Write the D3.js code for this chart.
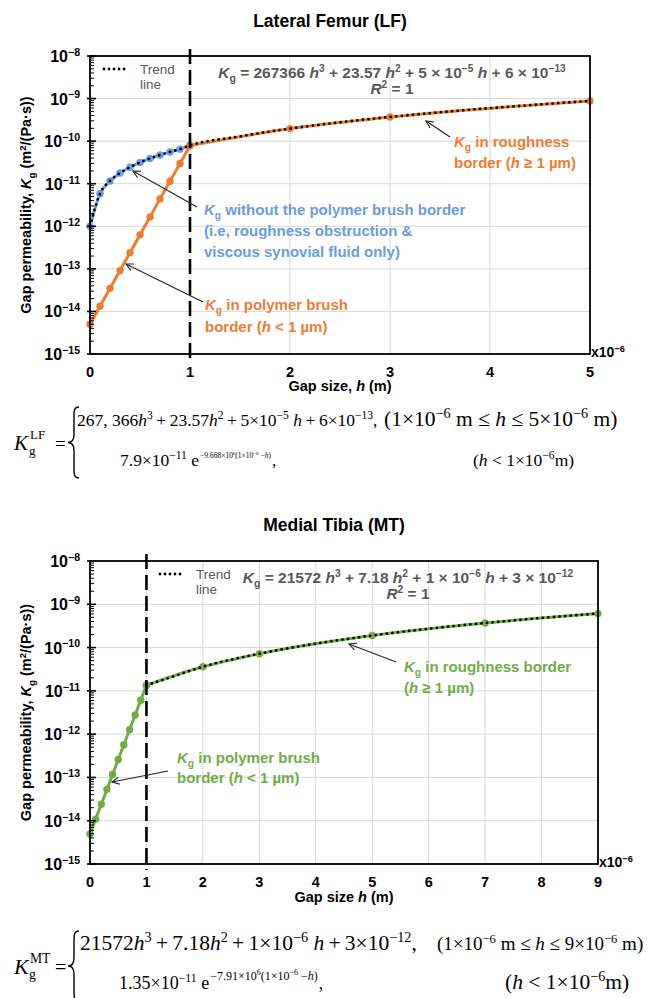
<!DOCTYPE html>
<html>
<head>
<meta charset="utf-8">
<script src="https://cdn.jsdelivr.net/npm/d3@7"></script>
<style>
  body { margin: 0; background: #fff; }
  svg { display: block; font-family: "Liberation Sans", Arial, sans-serif; }
</style>
</head>
<body>
<svg id="chart" width="649" height="998"></svg>
<script>
// ---- DATA ----
const yDecades = [-15, -14, -13, -12, -11, -10, -9, -8];
const lfTicksX = [0, 1, 2, 3, 4, 5];
const mtTicksX = [0, 1, 2, 3, 4, 5, 6, 7, 8, 9];

// Lateral Femur
const lfBrushH = [0, 0.1, 0.2, 0.3, 0.4, 0.5, 0.6, 0.7, 0.8, 0.9, 1];
const lfBrushK = [5.0e-15, 1.32e-14, 3.48e-14, 9.1e-14, 2.4e-13, 6.3e-13, 1.66e-12, 4.4e-12, 1.15e-11, 3.0e-11, 7.9e-11];
const lfNoBrushH = [0, 0.1, 0.2, 0.3, 0.4, 0.5, 0.6, 0.7, 0.8, 0.9, 1];
const lfNoBrushK = [1.0e-12, 5.8e-12, 1.16e-11, 1.78e-11, 2.44e-11, 3.15e-11, 3.92e-11, 4.73e-11, 5.58e-11, 6.49e-11, 7.9e-11];
const lfRoughH = [1, 2, 3, 5];
const lfRoughK = [7.9e-11, 1.97e-10, 3.7e-10, 8.8e-10];
const lfTrendH = [0, 0.1, 0.2, 0.3, 0.4, 0.5, 0.6, 0.7, 0.8, 0.9, 1, 1.5, 2, 2.5, 3, 3.5, 4, 4.5, 5];
const lfTrendK = [1.0e-12, 5.8e-12, 1.16e-11, 1.78e-11, 2.44e-11, 3.15e-11, 3.92e-11, 4.73e-11, 5.58e-11, 6.49e-11, 7.9e-11,
  1.29e-10, 1.97e-10, 2.77e-10, 3.7e-10, 4.76e-10, 5.95e-10, 7.27e-10, 8.8e-10];

// Medial Tibia
const mtBrushH = [0, 0.1, 0.2, 0.3, 0.4, 0.5, 0.6, 0.7, 0.8, 0.9, 1];
const mtBrushK = [4.95e-15, 1.09e-14, 2.41e-14, 5.3e-14, 1.17e-13, 2.59e-13, 5.7e-13, 1.26e-12, 2.78e-12, 6.1e-12, 1.35e-11];
const mtRoughH = [1, 2, 3, 5, 7, 9];
const mtRoughK = [1.35e-11, 3.6e-11, 7.2e-11, 1.9e-10, 3.69e-10, 6.1e-10];
const mtTrendH = [1, 1.5, 2, 3, 4, 5, 6, 7, 8, 9];
const mtTrendK = [1.35e-11, 2.2e-11, 3.6e-11, 7.2e-11, 1.23e-10, 1.9e-10, 2.72e-10, 3.69e-10, 4.82e-10, 6.1e-10];

const ORANGE = '#ed7d31';
const BLUE = '#6b9be0';
const GREEN = '#70ad47';
const GREY = '#595959';
const SERIF = '"Liberation Serif", "Times New Roman", serif';
const TS = '\u2009'; // thin space

const svg = d3.select('#chart');

// arrow marker (open chevron pointing forward)
svg.append('defs').append('marker')
  .attr('id', 'arr')
  .attr('viewBox', '0 0 10 10')
  .attr('refX', 9).attr('refY', 5)
  .attr('markerWidth', 9).attr('markerHeight', 9)
  .attr('orient', 'auto')
  .attr('markerUnits', 'userSpaceOnUse')
  .append('path')
  .attr('d', 'M1,1 L9,5 L1,9')
  .attr('fill', 'none').attr('stroke', '#222').attr('stroke-width', 1.2);

/**
 * Appends tspans to a text selection. Parts are strings or [text, flags]
 * where flags: i = italic, ^ = super, _ = sub.
 */
function rich(sel, parts, size) {
  let cur = 0;
  parts.forEach((p) => {
    const [t, f] = typeof p === 'string' ? [p, ''] : p;
    let shift = 0;
    let fs = size;
    if (f.includes('^')) { shift = -0.38 * size; fs = size * 0.66; }
    else if (f.includes('_')) { shift = 0.28 * size; fs = size * 0.68; }
    sel.append('tspan')
      .attr('dy', shift - cur)
      .attr('font-size', fs)
      .attr('font-style', f.includes('i') ? 'italic' : null)
      .text(t);
    cur = shift;
  });
  return sel;
}

function label(x, y, parts, opts) {
  const o = Object.assign({ size: 15, fill: '#000', weight: 'bold', anchor: 'start' }, opts);
  const t = svg.append('text')
    .attr('x', x).attr('y', y)
    .attr('fill', o.fill)
    .attr('font-weight', o.weight)
    .attr('font-size', o.size)
    .attr('text-anchor', o.anchor);
  if (o.family) t.attr('font-family', o.family);
  if (o.transform) t.attr('transform', o.transform).attr('x', 0).attr('y', 0);
  return rich(t, parts, o.size);
}

function arrow(x1, y1, x2, y2) {
  svg.append('line')
    .attr('x1', x1).attr('y1', y1).attr('x2', x2).attr('y2', y2)
    .attr('stroke', '#222').attr('stroke-width', 1.1)
    .attr('marker-end', 'url(#arr)');
}

/**
 * Draws one panel: frame, grid, log y axis, series, trend line.
 */
function panel(cfg) {
  const x = d3.scaleLinear().domain([0, cfg.xMax]).range([cfg.left, cfg.right]);
  const y = d3.scaleLog().domain([1e-15, 1e-8]).range([cfg.bottom, cfg.top]);
  const g = svg.append('g');

  // grid
  g.selectAll('line.gx').data(cfg.ticksX.slice(1, -1)).join('line')
    .attr('x1', (d) => x(d)).attr('x2', (d) => x(d))
    .attr('y1', cfg.top).attr('y2', cfg.bottom)
    .attr('stroke', '#d9d9d9').attr('stroke-width', 1);
  g.selectAll('line.gy').data(yDecades.slice(1, -1)).join('line')
    .attr('x1', cfg.left).attr('x2', cfg.right)
    .attr('y1', (d) => y(Math.pow(10, d))).attr('y2', (d) => y(Math.pow(10, d)))
    .attr('stroke', '#d9d9d9').attr('stroke-width', 1);

  const line = d3.line()
    .x((d) => x(d[0])).y((d) => y(d[1]))
    .curve(d3.curveMonotoneX);

  cfg.series.forEach((s) => {
    const pts = d3.zip(s.h, s.k);
    g.append('path').datum(pts)
      .attr('d', line)
      .attr('fill', 'none').attr('stroke', s.color).attr('stroke-width', 3);
    g.selectAll(null).data(pts).join('circle')
      .attr('cx', (d) => x(d[0])).attr('cy', (d) => y(d[1]))
      .attr('r', 3.7).attr('fill', s.color);
  });

  // trend line (dotted)
  g.append('path').datum(d3.zip(cfg.trendH, cfg.trendK))
    .attr('d', line)
    .attr('fill', 'none').attr('stroke', '#000').attr('stroke-width', 2.8)
    .attr('stroke-linecap', 'round').attr('stroke-dasharray', '0 5.6');

  // h = 1 um divider
  g.append('line')
    .attr('x1', x(1)).attr('x2', x(1))
    .attr('y1', cfg.top - 7).attr('y2', cfg.bottom + 6)
    .attr('stroke', '#000').attr('stroke-width', 2.6)
    .attr('stroke-dasharray', '15 6');

  // frame
  g.append('rect')
    .attr('x', cfg.left).attr('y', cfg.top)
    .attr('width', cfg.right - cfg.left).attr('height', cfg.bottom - cfg.top)
    .attr('fill', 'none').attr('stroke', '#000').attr('stroke-width', 1.8);

  // y ticks: majors + log minors
  const minors = [];
  yDecades.slice(0, -1).forEach((d) => {
    for (let m = 2; m <= 9; m++) minors.push(m * Math.pow(10, d));
  });
  g.selectAll(null).data(minors).join('line')
    .attr('x1', cfg.left).attr('x2', cfg.left + 4)
    .attr('y1', (d) => y(d)).attr('y2', (d) => y(d))
    .attr('stroke', '#000').attr('stroke-width', 1);
  g.selectAll(null).data(yDecades).join('line')
    .attr('x1', cfg.left - 3).attr('x2', cfg.left + 6)
    .attr('y1', (d) => y(Math.pow(10, d))).attr('y2', (d) => y(Math.pow(10, d)))
    .attr('stroke', '#000').attr('stroke-width', 1.6);

  // y tick labels
  yDecades.forEach((d) => {
    label(cfg.left - 10, y(Math.pow(10, d)) + 6, ['10', [String(d).replace('-', '\u2212'), '^']],
      { size: 16, anchor: 'end' });
  });

  // x tick labels
  cfg.ticksX.forEach((d) => {
    label(x(d), cfg.bottom + cfg.tickDy, [String(d)], { size: 14.5, anchor: 'middle' });
  });
  label(cfg.right + 1, cfg.bottom + 3, ['x10', ['\u22126', '^']], { size: 14 });

  // axis titles
  label((cfg.left + cfg.right) / 2, cfg.bottom + cfg.titleDy, cfg.xTitle, { size: 14.5, anchor: 'middle' });
  const yMid = (cfg.top + cfg.bottom) / 2;
  label(0, 0, ['Gap permeability, ', ['K', 'i'], ['g', '_'], ' (m', ['2', '^'], '/(Pa\u00b7s))'],
    { size: 14.5, anchor: 'middle', transform: `translate(31,${yMid}) rotate(-90)` });

  // chart title
  label((cfg.left + cfg.right) / 2 - 10, cfg.titleY, [cfg.title], { size: 17.5, anchor: 'middle' });

  // trend legend
  const ly = cfg.top + 13;
  g.append('line')
    .attr('x1', cfg.legX).attr('x2', cfg.legX + 25)
    .attr('y1', ly).attr('y2', ly)
    .attr('stroke', '#000').attr('stroke-width', 2.8)
    .attr('stroke-linecap', 'round').attr('stroke-dasharray', '0 5');
  label(cfg.legX + 36, ly + 5, ['Trend'], { size: 13.5, weight: 'normal', fill: GREY });
  label(cfg.legX + 36, ly + 20, ['line'], { size: 13.5, weight: 'normal', fill: GREY });

  // fitted equation
  label(cfg.eqX, cfg.top + 22, cfg.eq, { size: 15.5, anchor: 'middle', fill: GREY });
  label(cfg.eqX, cfg.top + 38, [['R', 'i'], ['2', '^'], ' = 1'], { size: 15.5, anchor: 'middle', fill: GREY });

  return { x, y };
}

// ---- Lateral Femur panel ----
panel({
  title: 'Lateral Femur (LF)', titleY: 27,
  left: 90, right: 590, top: 56, bottom: 354, xMax: 5,
  ticksX: lfTicksX, tickDy: 23, titleDy: 37,
  xTitle: ['Gap size, ', ['h', 'i'], ' (m)'],
  legX: 104, eqX: 392,
  eq: [['K', 'i'], ['g', '_'], ' = 267366 ', ['h', 'i'], ['3', '^'], ' + 23.57 ', ['h', 'i'], ['2', '^'],
    ' + 5 \u00d7 10', ['\u22125', '^'], ' ', ['h', 'i'], ' + 6 \u00d7 10', ['\u221213', '^']],
  series: [
    { h: lfNoBrushH, k: lfNoBrushK, color: BLUE },
    { h: lfBrushH, k: lfBrushK, color: ORANGE },
    { h: lfRoughH, k: lfRoughK, color: ORANGE },
  ],
  trendH: lfTrendH, trendK: lfTrendK,
});

label(454, 147, [['K', 'i'], ['g', '_'], ' in roughness'], { fill: ORANGE });
label(454, 168, ['border (', ['h', 'i'], ' \u2265 1 \u00b5m)'], { fill: ORANGE });
arrow(450, 137, 426, 121);

label(204, 215, [['K', 'i'], ['g', '_'], ' without the polymer brush border'], { fill: BLUE });
label(204, 236, ['(i.e, roughness obstruction &'], { fill: BLUE });
label(204, 257, ['viscous synovial fluid only)'], { fill: BLUE });
arrow(197, 207, 133, 171);

label(205, 310, [['K', 'i'], ['g', '_'], ' in polymer brush'], { fill: ORANGE });
label(205, 332, ['border (', ['h', 'i'], ' < 1 \u00b5m)'], { fill: ORANGE });
arrow(203, 302, 126, 264);

// ---- Medial Tibia panel ----
panel({
  title: 'Medial Tibia (MT)', titleY: 531,
  left: 90, right: 598, top: 561, bottom: 864, xMax: 9,
  ticksX: mtTicksX, tickDy: 23, titleDy: 38,
  xTitle: ['Gap size ', ['h', 'i'], ' (m)'],
  legX: 160, eqX: 408,
  eq: [['K', 'i'], ['g', '_'], ' = 21572 ', ['h', 'i'], ['3', '^'], ' + 7.18 ', ['h', 'i'], ['2', '^'],
    ' + 1 \u00d7 10', ['\u22126', '^'], ' ', ['h', 'i'], ' + 3 \u00d7 10', ['\u221212', '^']],
  series: [
    { h: mtBrushH, k: mtBrushK, color: GREEN },
    { h: mtRoughH, k: mtRoughK, color: GREEN },
  ],
  trendH: mtTrendH, trendK: mtTrendK,
});

label(404, 672, [['K', 'i'], ['g', '_'], ' in roughness border'], { fill: GREEN });
label(404, 693, ['(', ['h', 'i'], ' \u2265 1 \u00b5m)'], { fill: GREEN });
arrow(396, 662, 349, 644);

label(177, 763, [['K', 'i'], ['g', '_'], ' in polymer brush'], { fill: GREEN });
label(177, 783, ['border (', ['h', 'i'], ' < 1 \u00b5m)'], { fill: GREEN });
arrow(168, 771, 112, 782);

// ---- piecewise formulas ----
function brace(x, top, bottom) {
  const mid = (top + bottom) / 2;
  const p = d3.path();
  p.moveTo(x + 7, top);
  p.bezierCurveTo(x + 2, top, x + 2, top + 4, x + 2, top + 10);
  p.lineTo(x + 2, mid - 8);
  p.bezierCurveTo(x + 2, mid - 2, x - 1, mid, x - 4, mid);
  p.bezierCurveTo(x - 1, mid, x + 2, mid + 2, x + 2, mid + 8);
  p.lineTo(x + 2, bottom - 10);
  p.bezierCurveTo(x + 2, bottom - 4, x + 2, bottom, x + 7, bottom);
  svg.append('path').attr('d', p.toString())
    .attr('fill', 'none').attr('stroke', '#000').attr('stroke-width', 1.4);
}

function serif(size) {
  return { family: SERIF, weight: 'normal', size: size };
}

function formula(f) {
  const mid = (f.y1 + f.y2) / 2 - 2;
  label(14, mid + 6, [['K', 'i']], serif(f.k));
  label(29, mid + 11, ['g'], serif(f.k * 0.62));
  label(30, mid - 5, [f.tag], serif(f.k * 0.62));
  label(55, mid + 6, ['='], serif(f.k - 2));
  brace(72, f.y1 - 19, f.y2 + 12);

  label(f.l1.x, f.y1, f.l1.parts, serif(f.l1.size));
  label(f.c1.x, f.y1, f.c1.parts, serif(f.c1.size));

  // second line: coefficient, small exponent of e, comma
  const l2 = label(f.l2.x, f.y2, f.l2.parts, serif(f.l2.size));
  const exX = f.l2.x + l2.node().getComputedTextLength() + 1;
  const ex = label(exX, f.y2 - f.ex.rise, f.ex.parts, serif(f.ex.size));
  label(exX + ex.node().getComputedTextLength() + 1, f.y2, [','], serif(f.l2.size));
  label(f.c2.x, f.y2, f.c2.parts, serif(f.c2.size));
}

formula({
  tag: 'LF', y1: 426, y2: 466, k: 21,
  l1: { x: 77, size: 17.5, parts: ['267, 366', ['h', 'i'], ['3', '^'], `${TS}+${TS}23.57`, ['h', 'i'], ['2', '^'],
    `${TS}+${TS}5\u00d710`, ['\u22125', '^'], ' ', ['h', 'i'], `${TS}+${TS}6\u00d710`, ['\u221213', '^'], ','] },
  c1: { x: 384, size: 21.5, parts: ['(1\u00d710', ['\u22126', '^'], ' m \u2264 ', ['h', 'i'], ' \u2264 5\u00d710',
    ['\u22126', '^'], ' m)'] },
  l2: { x: 120, size: 17.5, parts: ['7.9\u00d710', ['\u221211', '^'], ' e'] },
  ex: { size: 7.5, rise: 8.5, parts: ['\u22129.668\u00d710', ['6', '^'], '(1\u00d710', ['\u22126', '^'], ' \u2212',
    ['h', 'i'], ')'] },
  c2: { x: 473, size: 17.5, parts: ['(', ['h', 'i'], ' < 1\u00d710', ['\u22126', '^'], 'm)'] },
});

formula({
  tag: 'MT', y1: 950, y2: 989, k: 22,
  l1: { x: 80, size: 21.5, parts: ['21572', ['h', 'i'], ['3', '^'], `${TS}+${TS}7.18`, ['h', 'i'], ['2', '^'],
    `${TS}+${TS}1\u00d710`, ['\u22126', '^'], ' ', ['h', 'i'], `${TS}+${TS}3\u00d710`, ['\u221212', '^'], ','] },
  c1: { x: 437, size: 19, parts: ['(1\u00d710', ['\u22126', '^'], ' m \u2264 ', ['h', 'i'], ' \u2264 9\u00d710',
    ['\u22126', '^'], ' m)'] },
  l2: { x: 119, size: 18, parts: ['1.35\u00d710', ['\u221211', '^'], ' e'] },
  ex: { size: 12, rise: 9, parts: ['\u22127.91\u00d710', ['6', '^'], '(1\u00d710', ['\u22126', '^'], ' \u2212',
    ['h', 'i'], ')'] },
  c2: { x: 505, size: 21.5, parts: ['(', ['h', 'i'], ' < 1\u00d710', ['\u22126', '^'], 'm)'] },
});
</script>
</body>
</html>
